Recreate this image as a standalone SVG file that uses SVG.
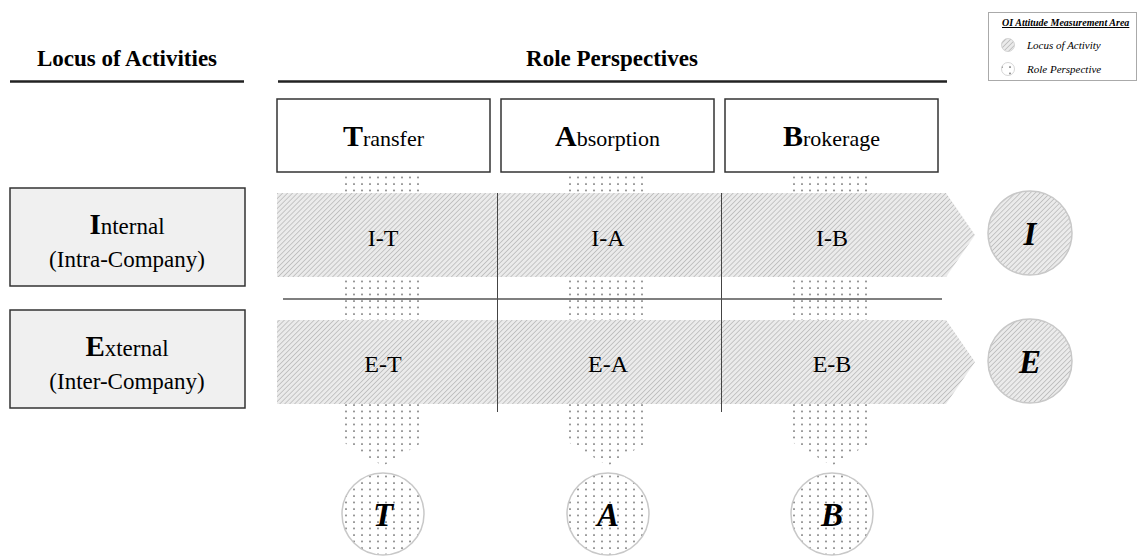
<svg xmlns="http://www.w3.org/2000/svg" width="1139" height="557" viewBox="0 0 1139 557">
<style>
  text { font-family: "Liberation Serif", "Times New Roman", serif; fill: #000; }
  .hdr { font-size: 23px; font-weight: bold; text-anchor: middle; }
  .rule { stroke: #222; stroke-width: 2.5; }
  .box { fill: #fff; stroke: #333; stroke-width: 1.5; }
  .lbox { fill: #f0f0f0; stroke: #333; stroke-width: 1.5; }
  .col { font-size: 22px; text-anchor: middle; }
  .big { font-size: 30px; font-weight: bold; }
  .cell { font-size: 24px; text-anchor: middle; }
  .circ { stroke: #c8c8c8; stroke-width: 1.5; }
  .clet { font-size: 33px; font-weight: bold; font-style: italic; text-anchor: middle; }
  .grid { stroke: #444; stroke-width: 1; }
  .legt { font-size: 11px; font-style: italic; }
</style>
<defs>
  <pattern id="hatch" patternUnits="userSpaceOnUse" width="3.5" height="3.5" patternTransform="rotate(45)">
    <rect width="3.5" height="3.5" fill="#ebebeb"/>
    <line x1="0" y1="0" x2="0" y2="3.5" stroke="#b0b0b0" stroke-width="1.3"/>
  </pattern>
  <pattern id="dots" patternUnits="userSpaceOnUse" width="8" height="6.5">
    <rect width="8" height="6.5" fill="#fff"/>
    <circle cx="2" cy="2" r="0.9" fill="#666"/>
  </pattern>
</defs>

<g id="headers">
  <text class="hdr" x="127" y="66">Locus of Activities</text>
  <line class="rule" x1="10" y1="81.5" x2="244" y2="81.5"/>
  <text class="hdr" x="612" y="66">Role Perspectives</text>
  <line class="rule" x1="278" y1="81.5" x2="947" y2="81.5"/>
</g>

<g id="legend">
  <rect x="988.5" y="12.5" width="148" height="68" fill="#fff" stroke="#aaa" stroke-width="1"/>
  <text x="1002" y="26" style="font-size:10px;font-weight:bold;font-style:italic;text-decoration:underline">OI Attitude Measurement Area</text>
  <circle cx="1008" cy="45" r="6.5" fill="url(#hatch)" stroke="#ccc" stroke-width="0.8"/>
  <text class="legt" x="1027" y="49">Locus of Activity</text>
  <circle cx="1008" cy="69" r="6.5" fill="url(#dots)" stroke="#ccc" stroke-width="0.8"/>
  <text class="legt" x="1027" y="73">Role Perspective</text>
</g>

<g id="role-columns">
  <polygon id="col-T" points="343,175 423,175 423,442 383,466 343,442" fill="url(#dots)"/>
  <polygon id="col-A" points="568,175 648,175 648,442 608,466 568,442" fill="url(#dots)"/>
  <polygon id="col-B" points="792,175 872,175 872,442 832,466 792,442" fill="url(#dots)"/>
</g>

<g id="locus-bands">
  <polygon id="band-I" points="277,193 946,193 975,235 946,277 277,277" fill="url(#hatch)"/>
  <polygon id="band-E" points="277,320 946,320 975,362 946,404 277,404" fill="url(#hatch)"/>
</g>

<g id="connectors">
  <line class="grid" x1="497.5" y1="193" x2="497.5" y2="412"/>
  <line class="grid" x1="721.5" y1="193" x2="721.5" y2="412"/>
  <line x1="283" y1="299" x2="942" y2="299" stroke="#555" stroke-width="1.5"/>
</g>

<g id="node-transfer">
  <rect class="box" x="277" y="99" width="213" height="73"/>
  <text class="col" x="383.5" y="146"><tspan class="big">T</tspan>ransfer</text>
</g>
<g id="node-absorption">
  <rect class="box" x="501" y="99" width="213" height="73"/>
  <text class="col" x="607.5" y="146"><tspan class="big">A</tspan>bsorption</text>
</g>
<g id="node-brokerage">
  <rect class="box" x="725" y="99" width="213" height="73"/>
  <text class="col" x="831.5" y="146"><tspan class="big">B</tspan>rokerage</text>
</g>

<g id="node-internal">
  <rect class="lbox" x="10" y="188" width="235" height="98"/>
  <text class="col" x="127" y="234" style="font-size:23px"><tspan style="font-size:29px;font-weight:bold">I</tspan>nternal</text>
  <text class="col" x="127" y="267" style="font-size:23px">(Intra-Company)</text>
</g>
<g id="node-external">
  <rect class="lbox" x="10" y="310" width="235" height="98"/>
  <text class="col" x="127" y="356" style="font-size:23px"><tspan style="font-size:29px;font-weight:bold">E</tspan>xternal</text>
  <text class="col" x="127" y="389" style="font-size:23px">(Inter-Company)</text>
</g>

<g id="cells">
  <text class="cell" x="383" y="246">I-T</text>
  <text class="cell" x="608" y="246">I-A</text>
  <text class="cell" x="832" y="246">I-B</text>
  <text class="cell" x="383" y="372">E-T</text>
  <text class="cell" x="608" y="372">E-A</text>
  <text class="cell" x="832" y="372">E-B</text>
</g>

<g id="node-I">
  <circle class="circ" cx="1030" cy="233" r="42" fill="url(#hatch)"/>
  <text class="clet" x="1030" y="245">I</text>
</g>
<g id="node-E">
  <circle class="circ" cx="1030" cy="361" r="42" fill="url(#hatch)"/>
  <text class="clet" x="1030" y="373">E</text>
</g>
<g id="node-T">
  <circle class="circ" cx="383" cy="514" r="41" fill="url(#dots)"/>
  <text class="clet" x="383" y="526">T</text>
</g>
<g id="node-A">
  <circle class="circ" cx="608" cy="514" r="41" fill="url(#dots)"/>
  <text class="clet" x="608" y="526">A</text>
</g>
<g id="node-B">
  <circle class="circ" cx="832" cy="514" r="41" fill="url(#dots)"/>
  <text class="clet" x="832" y="526">B</text>
</g>
</svg>
